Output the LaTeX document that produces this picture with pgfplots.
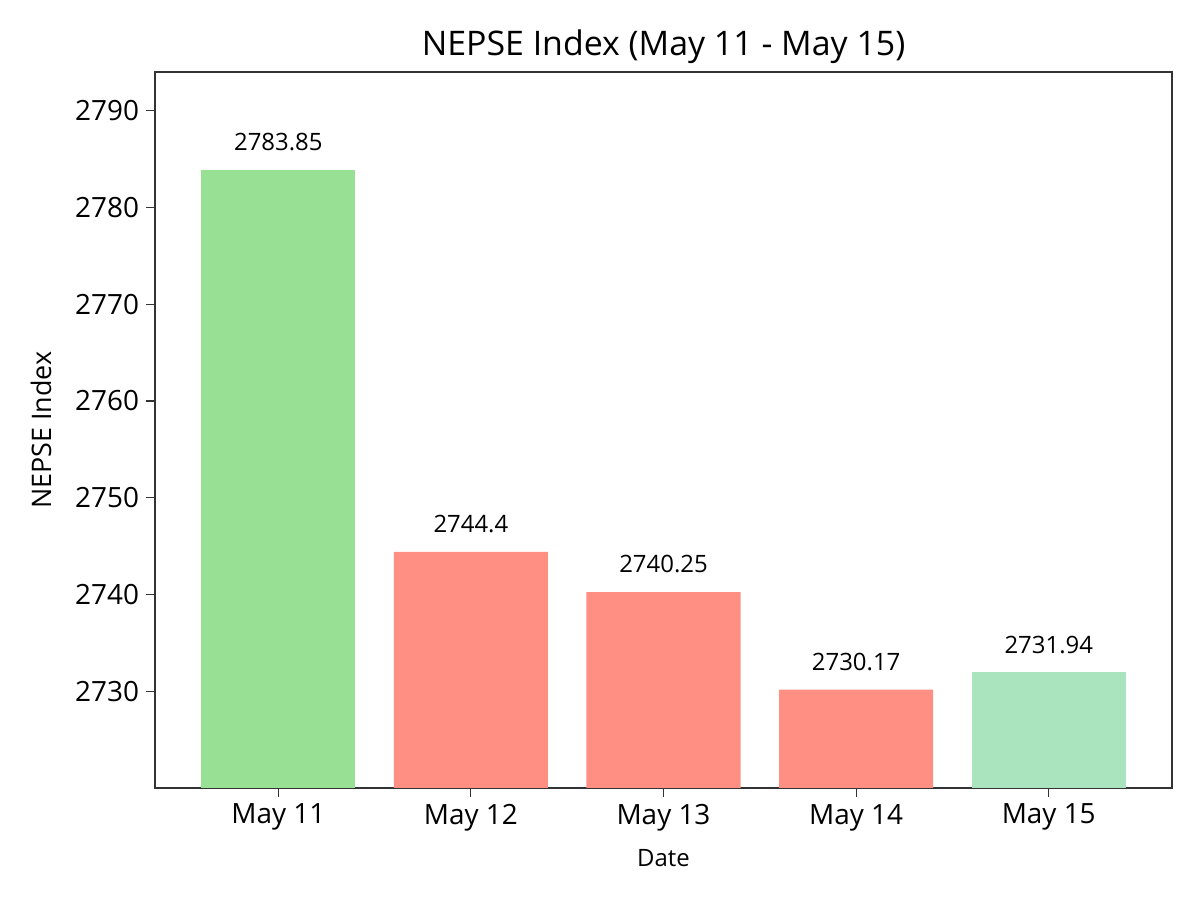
\documentclass[border=0pt]{standalone}
\usepackage{pgfplots}
\pgfplotsset{compat=1.18}
\usepackage{fontspec}
\setmainfont{Open Sans}
\definecolor{upgreen}{RGB}{152,224,148}
\definecolor{downred}{RGB}{255,143,130}
\definecolor{mint}{RGB}{170,228,190}
\begin{document}
\begin{tikzpicture}
\path[use as bounding box] (0,0) rectangle (600bp,450bp);
\begin{axis}[
  at={(77.5bp,56bp)}, anchor=south west,
  scale only axis, width=508.5bp, height=358bp,
  xmin=-0.64, xmax=4.64, ymin=2720, ymax=2794,
  xtick={0,1,2,3,4},
  xticklabels={May 11,May 12,May 13,May 14,May 15},
  ytick={2730,2740,2750,2760,2770,2780,2790},
  /pgf/number format/assume math mode=true,
  /pgf/number format/1000 sep={},
  tick label style={font=\fontsize{14}{16}\selectfont},
  tick align=outside, tick pos=left,
  major tick length=4.5bp,
  axis line style={line width=0.6bp, black!80},
  tick style={line width=0.6bp, black!80},
  title={NEPSE Index (May 11 - May 15)},
  title style={font=\fontsize{17}{19}\selectfont, yshift=-5.5bp},
  xlabel={Date}, ylabel={NEPSE Index},
  xlabel style={font=\fontsize{12}{14}\selectfont, yshift=-2.5bp},
  ylabel style={font=\fontsize{13.5}{15}\selectfont, yshift=5bp},
  ybar, bar width=0.8, bar shift=0pt,
  nodes near coords,
  nodes near coords style={font=\fontsize{12}{14}\selectfont, black, yshift=6bp},
  point meta=explicit symbolic,
]
\addplot[fill=upgreen, draw=none] coordinates {(0,2783.85) [2783.85]};
\addplot[fill=downred, draw=none] coordinates {(1,2744.4) [2744.4] (2,2740.25) [2740.25] (3,2730.17) [2730.17]};
\addplot[fill=mint, draw=none] coordinates {(4,2731.94) [2731.94]};
\end{axis}
\end{tikzpicture}
\end{document}
